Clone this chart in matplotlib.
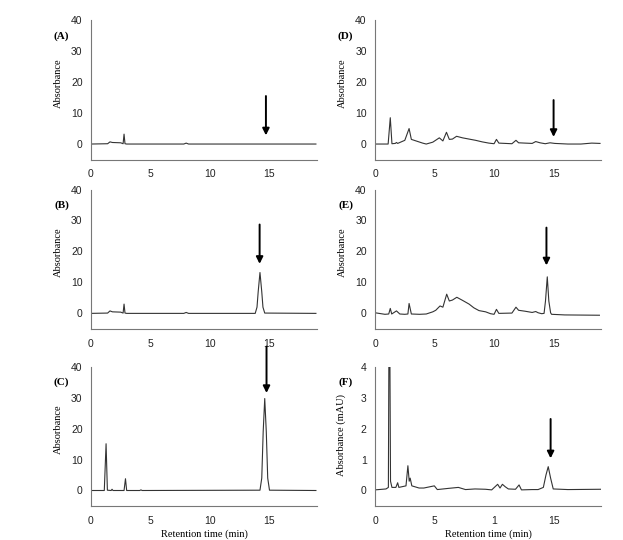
import matplotlib.pyplot as plt

# retention time (min) / absorbance points
t_a = [0, 1.4, 1.6, 1.8, 2.5, 2.7, 2.78, 2.86, 3.0, 7.8, 8.0, 8.2, 18.9]
y_a = [0, 0.1, 0.7, 0.5, 0.4, 0.1, 3.2, 0.1, 0, 0, 0.3, 0, 0]

t_b = [0, 1.4, 1.6, 1.8, 2.5, 2.7, 2.78, 2.86, 3.0, 7.8, 8.0, 8.2,
       13.8, 13.95, 14.05, 14.2, 14.35, 14.45, 14.6, 18.9]
y_b = [0, 0.1, 0.8, 0.5, 0.4, 0.1, 3.0, 0.1, 0, 0, 0.3, 0,
       0, 2.0, 7.0, 13.2, 7.0, 2.0, 0.1, 0]

t_c = [0, 1.12, 1.27, 1.38, 1.7, 1.77, 1.85, 2.78, 2.9, 3.0, 4.1, 4.2, 4.3,
       14.2, 14.35, 14.47, 14.6, 14.73, 14.85, 15.0, 18.9]
y_c = [0, 0, 15.1, 0.1, 0, 0.4, 0, 0, 3.8, 0, 0, 0.2, 0,
       0.1, 4.0, 19.0, 29.7, 19.0, 4.0, 0.1, 0]

t_d = [0, 1.1, 1.28, 1.42, 1.7, 1.8, 1.9, 2.5, 2.86, 3.05, 4.0, 4.3, 4.85,
       5.4, 5.7, 6.0, 6.24, 6.5, 6.85, 7.35, 7.9, 8.45, 9.0, 9.56, 10.0,
       10.2, 10.4, 10.95, 11.5, 11.84, 12.06, 12.6, 13.2, 13.5, 13.86, 14.3,
       14.7, 15.1, 16.2, 17.3, 18.2, 18.9]
y_d = [0, 0, 8.5, 0.1, 0.2, 0.5, 0.2, 1.2, 5.0, 1.5, 0.3, 0, 0.6,
       2.0, 1.0, 3.8, 1.5, 1.6, 2.5, 2.0, 1.6, 1.2, 0.7, 0.3, 0.1,
       1.5, 0.3, 0.2, 0.1, 1.2, 0.4, 0.3, 0.2, 0.8, 0.4, 0.1,
       0.4, 0.2, 0, 0, 0.3, 0.2]

t_e = [0, 0.83, 1.15, 1.28, 1.4, 1.8, 2.08, 2.5, 2.76, 2.86, 3.05, 3.74,
       4.3, 4.85, 5.1, 5.46, 5.7, 6.02, 6.24, 6.5, 6.87, 7.35, 7.9, 8.3,
       8.73, 9.29, 9.7, 10.0, 10.2, 10.4, 11.5, 11.84, 12.06, 12.6, 13.2,
       13.5, 13.7, 14.0, 14.2, 14.32, 14.47, 14.6, 14.75, 14.83, 15.4,
       15.94, 18.85]
y_e = [0.2, -0.3, -0.2, 1.6, -0.2, 0.8, -0.2, -0.3, -0.2, 3.2, -0.2, -0.3,
       -0.2, 0.5, 1.0, 2.4, 2.0, 6.2, 4.0, 4.3, 5.2, 4.2, 3.0, 1.8,
       0.9, 0.5, -0.1, -0.3, 1.3, 0.0, 0.1, 2.0, 1.0, 0.7, 0.3,
       0.6, 0.2, -0.1, 0.0, 4.0, 11.8, 4.0, 0.2, -0.3, -0.4,
       -0.5, -0.6]

t_f = [0, 0.92, 1.12, 1.2, 1.3, 1.42, 1.75, 1.9, 2.0, 2.6, 2.76, 2.87,
       2.95, 3.09, 3.7, 4.1, 4.98, 5.23, 6.2, 7.0, 7.6, 8.4, 9.27, 9.8,
       10.3, 10.5, 10.7, 10.94, 11.2, 11.8, 12.1, 12.3, 13.2, 13.7, 14.14,
       14.36, 14.55, 14.75, 14.97, 16.2, 19.0]
y_f = [0.02, 0.05, 0.1, 8.0, 0.3, 0.1, 0.1, 0.25, 0.1, 0.15, 0.8, 0.3,
       0.4, 0.15, 0.08, 0.08, 0.15, 0.03, 0.07, 0.1, 0.03, 0.05, 0.04, 0.02,
       0.2, 0.08, 0.2, 0.12, 0.05, 0.04, 0.18, 0.02, 0.03, 0.03, 0.1,
       0.5, 0.77, 0.4, 0.05, 0.03, 0.04]

# arrow (x, top, tip) per panel
arrows = {
    'A': (14.7, 15.5, 2.8),
    'B': (14.17, 28.7, 16.0),
    'C': (14.75, 46.5, 31.5),
    'D': (15.0, 14.2, 2.3),
    'E': (14.4, 27.7, 15.5),
    'F': (14.75, 2.31, 1.04),
}

panels = [
    ('A', t_a, y_a), ('B', t_b, y_b), ('C', t_c, y_c),
    ('D', t_d, y_d), ('E', t_e, y_e), ('F', t_f, y_f),
]

serif = 'Liberation Serif'
sans = 'Liberation Sans'

fig = plt.figure(figsize=(6.23, 5.4), dpi=100)

lefts = [0.146, 0.602]
bottoms = [0.7046, 0.391, 0.063]
w, h = 0.363, 0.258

for i, (name, t, y) in enumerate(panels):
    col, row = divmod(i, 3)
    ax = fig.add_axes([lefts[col], bottoms[row], w, h])
    ax.plot(t, y, color='#333333', lw=0.8)
    ax.set_xlim(0, 19)
    if name == 'F':
        ax.set_ylim(-0.5, 4)
        ax.set_yticks([0, 1, 2, 3, 4])
        ax.set_ylabel('Absorbance (mAU)', family=serif, fontsize=7.5)
        ax.yaxis.set_label_coords(-0.128, 0.51)
        ax.set_xticks([0, 5, 10, 15])
        ax.set_xticklabels(['0', '5', '1', '15'])
    else:
        ax.set_ylim(-5, 40)
        ax.set_yticks([0, 10, 20, 30, 40])
        ax.set_xticks([0, 5, 10, 15])
        ax.set_ylabel('Absorbance', family=serif, fontsize=7.5)
        ax.yaxis.set_label_coords(-0.125, 0.55)
    if row == 2:
        ax.set_xlabel('Retention time (min)', family=serif, fontsize=7.5,
                      labelpad=3)
    for s in ['top', 'right']:
        ax.spines[s].set_visible(False)
    for s in ['left', 'bottom']:
        ax.spines[s].set_color('#777777')
        ax.spines[s].set_linewidth(0.8)
    ax.tick_params(length=0, labelsize=7.5, labelcolor='#222222')
    ax.tick_params(axis='y', pad=6)
    ax.tick_params(axis='x', pad=7)
    for lab in ax.get_xticklabels() + ax.get_yticklabels():
        lab.set_family(sans)
    ax.text(-0.13, 0.885, '(%s)' % name, transform=ax.transAxes,
            ha='center', va='center', family=serif, fontweight='bold',
            fontsize=8)
    ax_x, top, tip = arrows[name]
    ax.annotate('', xy=(ax_x, tip), xytext=(ax_x, top),
                arrowprops=dict(arrowstyle='-|>', color='black', lw=1.4,
                                mutation_scale=10, shrinkA=0, shrinkB=0),
                annotation_clip=False)

fig.savefig('out.png', dpi=100)
